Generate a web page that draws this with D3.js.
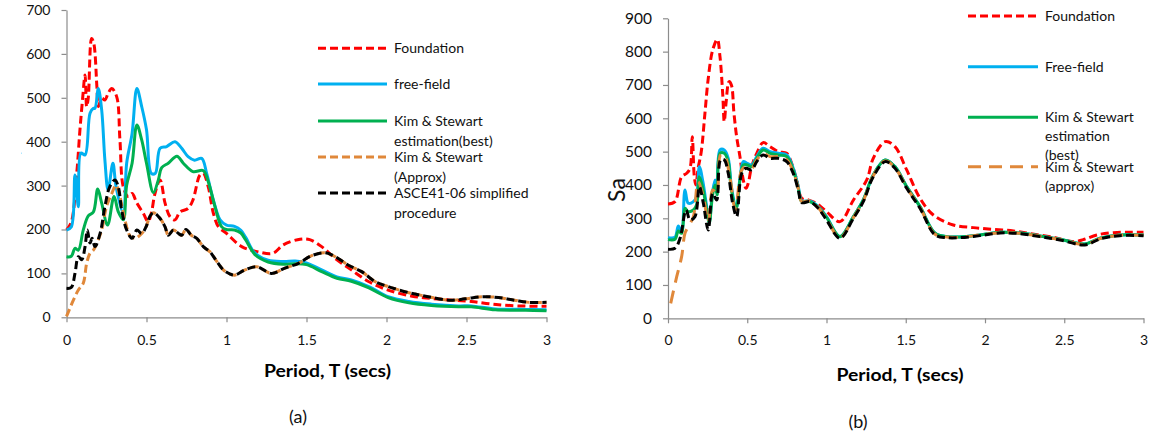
<!DOCTYPE html>
<html>
<head>
<meta charset="utf-8">
<script src="https://cdn.jsdelivr.net/npm/d3@7"></script>
<style>
  html, body { margin: 0; padding: 0; background: #fff; }
  svg { display: block; font-family: Lato, Carlito, "Liberation Sans", sans-serif; }
</style>
</head>
<body>
<svg id="chart" width="1149" height="432"></svg>
<script>
// ---------------- DATA : chart (a) ----------------
const xTicks = [0, 0.5, 1, 1.5, 2, 2.5, 3];
const xTickLabels = ["0", "0.5", "1", "1.5", "2", "2.5", "3"];
const aYTicks = [0, 100, 200, 300, 400, 500, 600, 700];
const bYTicks = [0, 100, 200, 300, 400, 500, 600, 700, 800, 900];

const aFoundT = [0,0.03,0.064,0.084,0.1,0.116,0.126,0.136,0.157,0.17,0.19,0.199,0.22,0.24,0.26,0.283,0.314,0.334,0.355,0.386,0.41,0.44,0.48,0.51,0.53,0.553,0.585,0.616,0.647,0.678,0.71,0.76,0.79,0.834,0.855,0.886,0.918,0.95,1.0,1.095,1.2,1.29,1.355,1.46,1.52,1.595,1.68,1.78,1.89,2.01,2.16,2.28,2.41,2.53,2.66,2.82,3.0];
const aFoundV = [199,217,328,427,495,552,480,500,635,625,525,480,499,495,510,521,502,404,297,275,282,260,237,218,237,282,313,260,229,222,240,248,267,324,328,297,237,206,191,161,149,146,165,178,177,161,134,108,81,62,48,43,39,36,30,26,25];

const aFreeT = [0,0.03,0.053,0.074,0.09,0.116,0.147,0.168,0.178,0.199,0.22,0.24,0.26,0.29,0.31,0.355,0.376,0.41,0.44,0.47,0.5,0.53,0.555,0.585,0.626,0.678,0.72,0.76,0.8,0.845,0.876,0.918,0.96,1.0,1.05,1.09,1.12,1.178,1.26,1.355,1.43,1.5,1.595,1.69,1.78,1.89,2.01,2.14,2.28,2.45,2.53,2.68,2.87,3.0];
const aFreeV = [199,206,324,252,374,370,465,476,476,521,472,358,290,351,297,237,351,419,521,480,427,328,328,385,389,400,385,366,358,362,328,267,222,210,207,198,182,146,130,127,128,124,108,92,85,70,47,36,30,26,26,19,18,17];

const aBestT = [0,0.03,0.053,0.074,0.105,0.136,0.168,0.195,0.22,0.257,0.297,0.324,0.355,0.376,0.41,0.44,0.47,0.5,0.543,0.574,0.595,0.636,0.69,0.73,0.79,0.855,0.886,0.928,0.97,1.0,1.05,1.09,1.12,1.18,1.26,1.355,1.43,1.5,1.595,1.69,1.78,1.89,2.01,2.14,2.28,2.45,2.53,2.68,2.87,3.0];
const aBestV = [138,139,157,153,199,231,240,292,260,210,275,240,222,301,351,438,404,351,284,313,341,351,367,351,332,334,309,252,206,200,199,192,176,142,126,121,122,120,104,89,82,67,45,33,27,24,24,17,16,15];

const aApproxT = [0,0.043,0.074,0.105,0.126,0.147,0.168,0.19,0.22,0.25,0.283,0.31,0.334,0.365,0.4,0.43,0.47,0.497,0.52,0.543,0.585,0.616,0.636,0.668,0.7,0.72,0.747,0.78,0.814,0.855,0.897,0.94,0.98,1.02,1.05,1.116,1.19,1.28,1.365,1.45,1.53,1.615,1.68,1.76,1.845,1.93,2.01,2.14,2.26,2.39,2.49,2.6,2.7,2.8,2.89,3.0];
const aApproxV = [2,39,62,78,123,146,153,169,199,252,282,301,275,222,184,180,191,206,229,238,225,206,187,199,191,187,200,187,180,161,149,127,108,99,96,108,115,100,112,123,140,147,138,119,104,81,70,56,47,39,42,47,45,39,34,34];

const aAsceT = [0,0.03,0.053,0.074,0.095,0.116,0.13,0.147,0.16,0.178,0.21,0.24,0.27,0.303,0.324,0.345,0.376,0.41,0.44,0.47,0.497,0.52,0.543,0.585,0.616,0.636,0.668,0.7,0.72,0.747,0.78,0.814,0.855,0.897,0.94,0.98,1.02,1.05,1.116,1.19,1.28,1.365,1.45,1.53,1.615,1.68,1.76,1.845,1.93,2.01,2.14,2.26,2.39,2.49,2.6,2.7,2.8,2.89,3.0];
const aAsceV = [66,68,100,138,131,161,199,169,180,161,191,252,297,313,297,244,199,180,199,191,206,229,238,225,206,187,199,191,187,200,187,180,161,149,127,108,99,96,108,115,100,112,123,140,147,138,119,104,81,70,56,47,39,42,47,45,39,34,34];

// ---------------- DATA : chart (b) ----------------
const bFoundT = [0,0.044,0.086,0.118,0.139,0.153,0.166,0.176,0.19,0.21,0.233,0.254,0.282,0.311,0.328,0.345,0.355,0.366,0.385,0.4,0.416,0.433,0.454,0.475,0.492,0.506,0.528,0.56,0.6,0.644,0.696,0.749,0.78,0.812,0.844,0.885,0.938,1.0,1.085,1.17,1.254,1.295,1.37,1.432,1.506,1.59,1.674,1.8,1.926,2.05,2.18,2.3,2.43,2.557,2.62,2.705,2.81,2.93,3.0];
const bFoundV = [343,350,425,435,450,545,425,400,450,500,615,720,805,837,785,675,590,645,710,700,616,545,485,415,390,405,455,495,527,515,500,495,465,415,360,355,345,320,290,355,415,480,530,515,445,360,310,280,272,267,262,253,243,230,236,250,257,258,258];

const bFreeT = [0,0.044,0.065,0.086,0.107,0.128,0.16,0.18,0.198,0.22,0.244,0.26,0.28,0.297,0.31,0.328,0.355,0.38,0.4,0.43,0.454,0.475,0.5,0.528,0.56,0.6,0.644,0.696,0.749,0.79,0.822,0.844,0.894,0.948,1.0,1.085,1.17,1.232,1.295,1.37,1.432,1.506,1.59,1.685,1.758,1.842,1.968,2.095,2.22,2.347,2.473,2.63,2.726,2.85,3.0];
const bFreeV = [242,243,277,260,385,345,350,365,455,410,335,290,375,415,380,505,505,480,395,330,420,470,465,460,485,510,500,495,490,450,395,353,352,335,305,245,305,355,430,475,455,395,335,255,245,244,250,258,256,247,237,223,240,250,250];

const bBestT = [0,0.044,0.065,0.086,0.107,0.128,0.16,0.18,0.198,0.22,0.244,0.26,0.28,0.297,0.31,0.328,0.355,0.38,0.4,0.43,0.454,0.475,0.5,0.528,0.56,0.6,0.644,0.696,0.749,0.79,0.822,0.844,0.894,0.948,1.0,1.085,1.17,1.232,1.295,1.37,1.432,1.506,1.59,1.685,1.758,1.842,1.968,2.095,2.22,2.347,2.473,2.63,2.726,2.85,3.0];
const bBestV = [236,237,262,255,330,320,325,340,425,390,325,285,365,400,370,495,495,470,385,330,415,460,460,455,480,505,495,490,485,445,390,350,350,333,303,245,305,355,430,475,455,395,335,255,245,244,250,258,256,247,237,223,240,250,250];

const bApproxT = [0.017,0.055,0.086,0.107,0.128,0.16,0.19,0.223,0.254,0.282,0.307,0.332,0.355,0.39,0.425,0.465,0.492,0.528,0.56,0.6,0.644,0.696,0.749,0.79,0.822,0.844,0.894,0.948,1.0,1.085,1.17,1.232,1.295,1.37,1.432,1.506,1.59,1.685,1.758,1.842,1.968,2.095,2.22,2.347,2.473,2.63,2.726,2.85,3.0];
const bApproxV = [45,125,185,255,275,305,410,365,290,385,375,490,490,425,325,445,455,450,475,495,485,485,475,440,390,350,352,332,298,242,302,352,428,472,452,392,332,252,244,243,250,257,255,246,236,222,239,249,249];

const bAsceT = [0,0.044,0.076,0.114,0.139,0.17,0.198,0.223,0.254,0.282,0.307,0.332,0.355,0.38,0.408,0.433,0.465,0.492,0.528,0.56,0.6,0.644,0.696,0.749,0.79,0.822,0.844,0.894,0.948,1.0,1.085,1.17,1.232,1.295,1.37,1.432,1.506,1.59,1.685,1.758,1.842,1.968,2.095,2.22,2.347,2.473,2.63,2.726,2.85,3.0];
const bAsceV = [207,210,240,325,295,305,395,345,265,375,355,475,475,435,345,305,435,450,445,470,490,480,480,470,435,385,347,350,330,295,240,300,350,425,470,450,390,330,250,242,242,248,256,254,245,235,220,238,248,248];

const aLegend = [["Foundation"], ["free-field"], ["Kim & Stewart", "estimation(best)"], ["Kim & Stewart", "(Approx)"], ["ASCE41-06 simplified", "procedure"]];
const bLegend = [["Foundation"], ["Free-field"], ["Kim & Stewart", "estimation", "(best)"], ["Kim & Stewart", "(approx)"]];

// ---------------- STYLES ----------------
const C = { red: "#FF0000", blue: "#00B0F0", green: "#00B050", orange: "#E0883A", black: "#000000" };
const axisColor = "#8C8C8C";
const font = "Lato, Carlito, 'Liberation Sans', sans-serif";
const textColor = "#111";

const svg = d3.select("#chart");

function zip(T, V) { return T.map((t, i) => ({ t, v: V[i] })); }

function drawChart(cfg) {
  const g = svg.append("g");
  const x = d3.scaleLinear().domain([0, 3]).range([cfg.x0, cfg.x1]);
  const y = d3.scaleLinear().domain([0, cfg.ymax]).range([cfg.y0, cfg.y1]);

  const xa = g.append("g").attr("transform", `translate(0,${cfg.y0})`)
    .call(d3.axisBottom(x).tickValues(xTicks).tickFormat((d, i) => xTickLabels[i]).tickSize(5).tickSizeOuter(0).tickPadding(cfg.xPad));
  const ya = g.append("g").attr("transform", `translate(${cfg.x0},0)`)
    .call(d3.axisLeft(y).tickValues(cfg.yTicks).tickFormat(d3.format("d")).tickSize(5).tickSizeOuter(0).tickPadding(cfg.yPad));
  [xa, ya].forEach(a => {
    a.select(".domain").attr("stroke", axisColor).attr("stroke-width", 1.2);
    a.selectAll(".tick line").attr("stroke", axisColor).attr("stroke-width", 1.2);
    a.selectAll("text").attr("fill", textColor).style("font-family", font);
  });
  xa.selectAll("text").style("font-size", "14px");
  ya.selectAll("text").style("font-size", cfg.yFont + "px");

  const line = d3.line().x(d => x(d.t)).y(d => y(d.v)).curve(d3.curveCatmullRom.alpha(0.5));
  cfg.series.forEach(s => {
    g.append("path").datum(zip(s.T, s.V))
      .attr("d", line).attr("fill", "none")
      .attr("stroke", s.color).attr("stroke-width", 3)
      .attr("stroke-dasharray", s.dash || null)
      .attr("stroke-linejoin", "round");
  });

  cfg.legend.forEach((lab, i) => {
    const s = cfg.series[i];
    const ly = cfg.legY[i];
    g.append("line").attr("x1", cfg.legX0).attr("x2", cfg.legX1).attr("y1", ly).attr("y2", ly)
      .attr("stroke", s.color).attr("stroke-width", 3).attr("stroke-dasharray", s.dash || null);
    lab.forEach((t, j) => {
      g.append("text").attr("x", cfg.legX1 + 7).attr("y", ly + j * cfg.legGap).attr("dy", "0.35em")
        .style("font-family", font).style("font-size", "14px").attr("fill", textColor).text(t);
    });
  });

  g.append("text").attr("x", cfg.titleX).attr("y", cfg.titleY).attr("dy", "0.35em")
    .attr("text-anchor", "middle").style("font-family", font).style("font-weight", "bold")
    .style("font-size", "16.5px").attr("textLength", 127).attr("lengthAdjust", "spacingAndGlyphs")
    .attr("fill", "#000").text("Period, T (secs)");
  g.append("text").attr("x", cfg.capX).attr("y", cfg.capY).attr("dy", "0.35em")
    .attr("text-anchor", "middle").style("font-family", font)
    .style("font-size", "18px").attr("fill", textColor).text(cfg.caption);
  return g;
}

drawChart({
  x0: 66.5, x1: 546.5, y0: 317.3, y1: 10, ymax: 700, yTicks: aYTicks, yFont: 14,
  xPad: 13, yPad: 11,
  series: [
    { T: aFoundT, V: aFoundV, color: C.red, dash: "8,4" },
    { T: aFreeT, V: aFreeV, color: C.blue },
    { T: aBestT, V: aBestV, color: C.green },
    { T: aApproxT, V: aApproxV, color: C.orange, dash: "8,4" },
    { T: aAsceT, V: aAsceV, color: C.black, dash: "8,4" }
  ],
  legend: aLegend, legX0: 318, legX1: 387, legY: [48.3, 84, 121, 157, 193], legGap: 20,
  titleX: 327.5, titleY: 371.5, capX: 298, capY: 416.5, caption: "(a)"
});

drawChart({
  x0: 668, x1: 1143.5, y0: 318.3, y1: 18.3, ymax: 900, yTicks: bYTicks, yFont: 15.5,
  xPad: 12, yPad: 11,
  series: [
    { T: bFoundT, V: bFoundV, color: C.red, dash: "8,4" },
    { T: bFreeT, V: bFreeV, color: C.blue },
    { T: bBestT, V: bBestV, color: C.green },
    { T: bApproxT, V: bApproxV, color: C.orange, dash: "13,8" },
    { T: bAsceT, V: bAsceV, color: C.black, dash: "8,4" }
  ],
  legend: bLegend, legX0: 968, legX1: 1038, legY: [16, 66.7, 117.3, 166.7], legGap: 19,
  titleX: 900, titleY: 375, capX: 858, capY: 421.5, caption: "(b)"
});

// rotated y-axis titles (the left one is cut off in the reference)
svg.append("defs").append("clipPath").attr("id", "clipL")
  .append("rect").attr("x", 9).attr("y", 0).attr("width", 40).attr("height", 432);
svg.append("text").attr("clip-path", "url(#clipL)")
  .attr("transform", "translate(21,163) rotate(-90)").attr("text-anchor", "middle")
  .style("font-family", font).style("font-size", "23px").attr("fill", textColor).text("Sa");
svg.append("text")
  .attr("transform", "translate(625,190) rotate(-90)").attr("text-anchor", "middle")
  .style("font-family", font).style("font-size", "23px").attr("fill", textColor).text("Sa");
</script>
</body>
</html>
